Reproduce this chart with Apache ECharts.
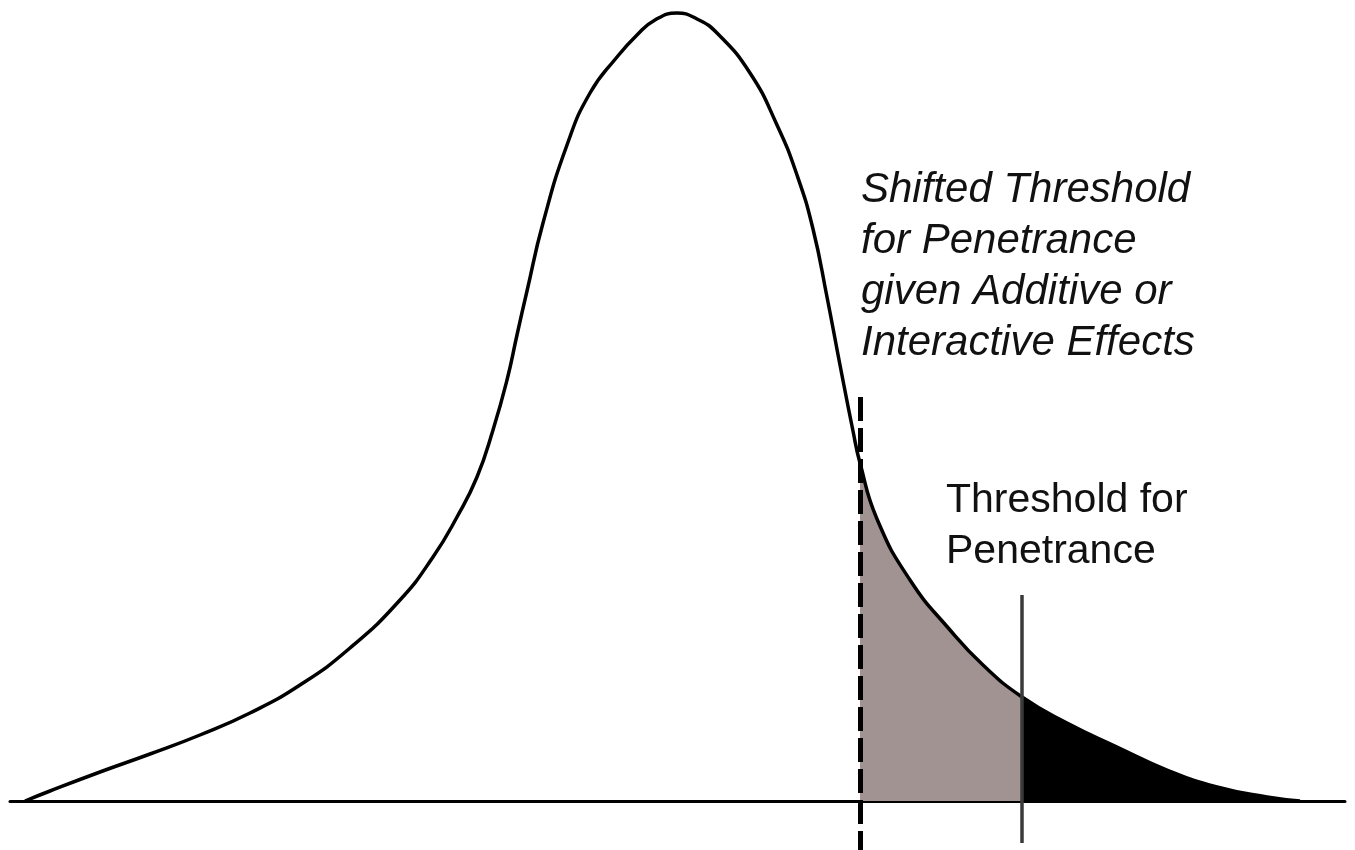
<!DOCTYPE html>
<html>
<head>
<meta charset="utf-8">
<title>Threshold for Penetrance</title>
<script src="https://cdn.jsdelivr.net/npm/echarts@6/dist/echarts.min.js"></script>
<style>
  html, body { margin: 0; padding: 0; background: #fff; }
  #chart { width: 1355px; height: 850px; }
</style>
</head>
<body>
<div id="chart"></div>
<script>
// liability distribution: [position, height above baseline]
const curve = [
  [25, 0], [50, 10], [100, 29], [150, 47], [200, 66], [250, 88], [300, 116],
  [350, 153], [400, 201], [433, 244], [457, 284], [477, 324], [493, 371],
  [507, 421], [517, 466], [527, 510], [543, 578], [567, 656], [590, 708],
  [617, 744], [637, 766], [655, 781], [677, 788], [697, 782], [717, 768],
  [750, 728], [777, 676], [797, 626], [813, 572], [827, 504], [840, 436],
  [853, 370], [860, 338], [877, 282], [910, 221], [950, 171], [983, 136],
  [1022, 104], [1067, 78], [1117, 54], [1167, 31], [1217, 14], [1267, 4],
  [1300, 0]
];

// threshold positions
const shiftedThreshold = 860;
const threshold = 1022;
// vertical extent of the two marker lines [top, bottom]
const shiftedLineSpan = [404, -49];
const thresholdLineSpan = [206, -42];

const labelShifted = ["Shifted Threshold", "for Penetrance", "given Additive or", "Interactive Effects"];
const labelThreshold = ["Threshold for", "Penetrance"];

const grayPart = curve.filter(p => p[0] >= shiftedThreshold && p[0] <= threshold);
const blackPart = curve.filter(p => p[0] >= threshold);

const chart = echarts.init(document.getElementById("chart"));

const smooth = 0.5;

chart.setOption({
  animation: false,
  backgroundColor: "#fff",
  grid: { left: 10, right: 10, top: 0, bottom: 0 },
  xAxis: {
    type: "value",
    min: 10,
    max: 1345,
    axisLine: { onZero: true, lineStyle: { color: "#000", width: 3 } },
    axisTick: { show: false },
    axisLabel: { show: false },
    splitLine: { show: false }
  },
  yAxis: {
    type: "value",
    min: -49,
    max: 801,
    show: false,
    splitLine: { show: false }
  },
  series: [
    {
      // shaded: between shifted and original threshold
      type: "line",
      data: grayPart,
      smooth: smooth,
      showSymbol: false,
      lineStyle: { width: 0 },
      areaStyle: { color: "#a29393", opacity: 1, origin: 0 },
      z: 1
    },
    {
      // black tail beyond the threshold
      type: "line",
      data: blackPart,
      smooth: smooth,
      showSymbol: false,
      lineStyle: { width: 0 },
      areaStyle: { color: "#000", opacity: 1, origin: 0 },
      z: 1
    },
    {
      type: "line",
      data: curve,
      smooth: smooth,
      showSymbol: false,
      lineStyle: { color: "#000", width: 3.5 },
      z: 3,
      markLine: {
        silent: true,
        symbol: "none",
        label: { show: false },
        data: [
          [
            { coord: [shiftedThreshold, shiftedLineSpan[0]], lineStyle: { color: "#000", width: 5, type: [24, 7] } },
            { coord: [shiftedThreshold, shiftedLineSpan[1]] }
          ],
          [
            { coord: [threshold, thresholdLineSpan[0]], lineStyle: { color: "#3a3a3a", width: 3.5, type: "solid" } },
            { coord: [threshold, thresholdLineSpan[1]] }
          ]
        ]
      }
    }
  ],
  graphic: [
    {
      type: "text",
      left: 861,
      top: 165,
      style: {
        text: labelShifted.join("\n"),
        font: "italic 42px 'Liberation Sans', Arial, sans-serif",
        fill: "#111",
        lineHeight: 51
      },
      z: 10
    },
    {
      type: "text",
      left: 946,
      top: 475,
      style: {
        text: labelThreshold.join("\n"),
        font: "41px 'Liberation Sans', Arial, sans-serif",
        fill: "#111",
        lineHeight: 51
      },
      z: 10
    }
  ]
});
</script>
</body>
</html>
